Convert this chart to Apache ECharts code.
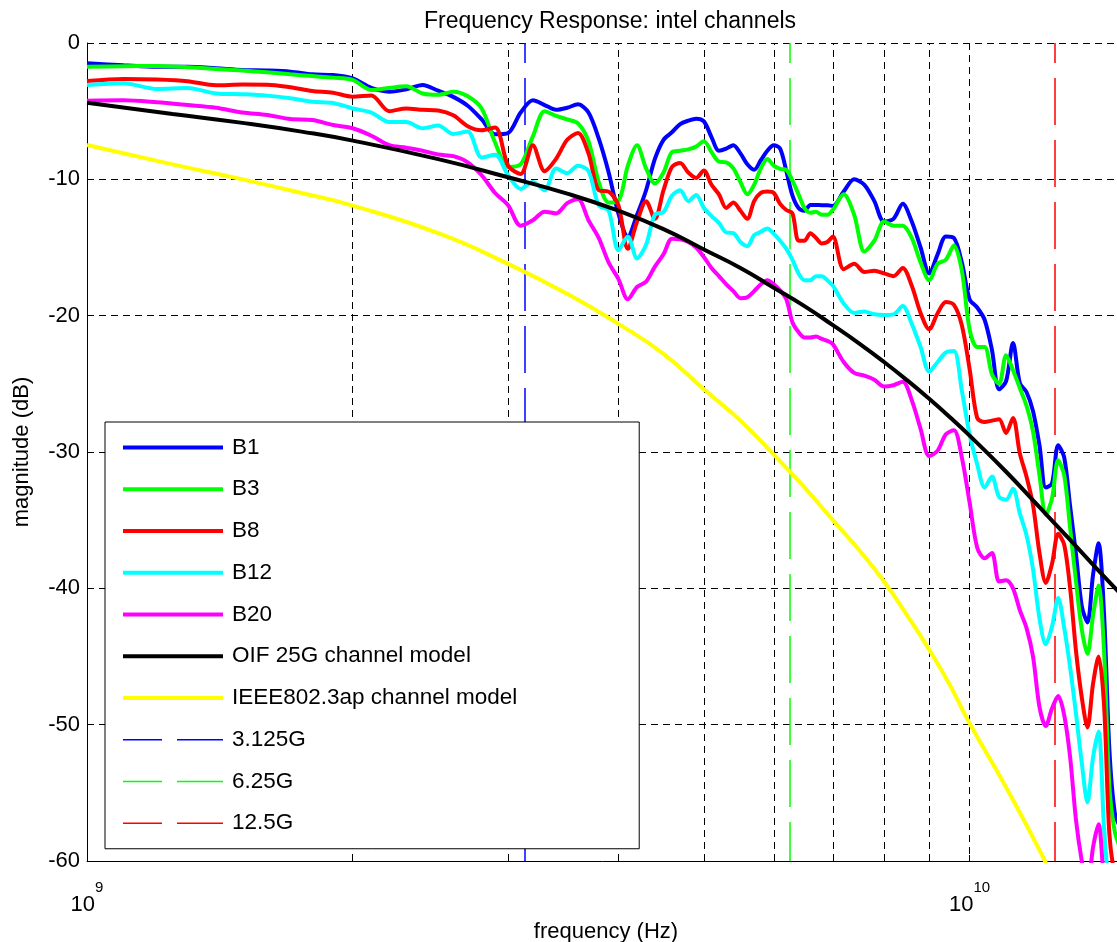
<!DOCTYPE html>
<html>
<head>
<meta charset="utf-8">
<title>Frequency Response: intel channels</title>
<script src="https://cdn.jsdelivr.net/npm/echarts@6.0.0/dist/echarts.min.js"></script>
<style>
    html, body { margin: 0; padding: 0; background: #ffffff; }
    #freq-chart { width: 1117px; height: 942px; }
</style>
</head>
<body>
<div id="freq-chart"></div>
<script>
// frequency samples of the measured channels, in GHz
var freqGHz = [
    1.0, 1.1, 1.2, 1.3, 1.4, 1.5, 1.6, 1.7, 1.8, 1.9,
    2.0, 2.1, 2.2, 2.3, 2.4, 2.5, 2.6, 2.7, 2.8, 2.9,
    3.0, 3.1, 3.2, 3.3, 3.4, 3.5, 3.6, 3.7, 3.8, 3.9,
    4.0, 4.1, 4.2, 4.3, 4.4, 4.5, 4.6, 4.7, 4.8, 4.9,
    5.0, 5.1, 5.2, 5.3, 5.4, 5.5, 5.6, 5.7, 5.8, 5.9,
    6.0, 6.1, 6.2, 6.3, 6.4, 6.5, 6.6, 6.7, 6.8, 6.9,
    7.0, 7.2, 7.4, 7.6, 7.8, 8.0, 8.2, 8.4, 8.6, 8.8,
    9.0, 9.2, 9.4, 9.6, 9.8, 10.0, 10.2, 10.4, 10.6, 10.8,
    11.0, 11.2, 11.4, 11.6, 11.8, 12.0, 12.2, 12.4, 12.6, 12.8,
    13.0, 13.2, 13.4, 13.6, 13.8, 14.0, 14.2, 14.4, 14.6, 14.8
];

// magnitude (dB) of each channel at freqGHz
var b1 = [
    -1.49, -1.63, -1.74, -1.74, -1.85, -1.98, -2.02, -2.1, -2.3, -2.35,
    -2.6, -3.3, -3.57, -3.4, -3.08, -3.5, -3.95, -4.6, -5.6, -6.7,
    -6.6, -5.1, -4.2, -4.55, -4.9, -4.75, -4.5, -5.1, -7.0, -9.5,
    -12.5, -14.2, -12.6, -10.8, -8.5, -7.1, -6.55, -5.95, -5.7, -5.55,
    -5.75, -6.9, -7.9, -7.75, -7.5, -8.1, -8.9, -9.3, -8.6, -7.9,
    -7.5, -7.75, -9.4, -11.2, -12.1, -12.3, -11.88, -11.88, -11.9, -11.9,
    -11.95, -10.9, -10.0, -10.4, -11.6, -13.1, -12.9, -11.8, -13.1, -15.0,
    -16.9, -15.5, -14.2, -14.3, -16.1, -18.8, -19.4, -20.3, -22.5, -25.4,
    -24.8, -22.0, -24.95, -25.6, -27.0, -29.5, -32.6, -32.3, -29.5, -30.4,
    -34.0, -37.5, -41.3, -42.5, -39.0, -36.7, -41.8, -51.8, -56.4, -57.5
];
var b3 = [
    -1.74, -1.7, -1.68, -1.78, -1.9, -2.02, -2.15, -2.3, -2.42, -2.54,
    -2.7, -3.45, -3.3, -3.18, -3.7, -3.8, -3.57, -3.9, -4.8, -7.3,
    -9.1, -8.9, -6.85, -5.0, -5.35, -5.6, -5.9, -7.2, -10.2, -11.7,
    -11.6, -9.0, -7.5, -9.2, -10.3, -9.5, -8.0, -7.9, -7.8, -7.6,
    -7.2, -8.0, -8.7, -8.75, -9.2, -10.2, -11.1, -10.4, -9.2, -8.5,
    -9.0, -9.23, -9.3, -10.1, -11.1, -12.1, -12.45, -12.37, -12.6, -12.6,
    -12.24, -11.1, -12.6, -15.3, -14.5, -13.1, -13.4, -13.4, -14.3, -16.1,
    -17.4, -16.2, -15.9, -14.85, -16.7, -21.0, -22.3, -22.3, -24.3, -25.0,
    -22.9, -24.0, -25.3, -26.6, -28.5, -31.7, -34.6, -33.4, -30.6, -31.7,
    -35.6, -39.5, -43.0, -44.8, -42.0, -39.8, -44.5, -54.5, -57.8, -59.0
];
var b8 = [
    -2.79, -2.64, -2.68, -2.8, -3.1, -3.05, -3.06, -3.25, -3.52, -3.65,
    -3.94, -3.85, -5.0, -4.8, -4.9, -4.95, -5.3, -6.1, -6.4, -6.2,
    -9.0, -9.6, -7.5, -9.4, -8.5, -7.1, -6.6, -8.1, -10.8, -10.9,
    -11.9, -15.1, -13.1, -11.6, -12.9, -10.8, -9.1, -8.8, -9.5, -9.9,
    -9.35, -10.4, -11.1, -12.1, -11.7, -12.3, -12.9, -11.6, -11.0, -10.9,
    -11.0, -11.8, -12.25, -12.5, -14.5, -14.5, -13.95, -14.3, -14.7, -14.6,
    -14.2, -16.6, -16.2, -16.8, -16.7, -16.9, -17.1, -16.5, -17.8, -19.8,
    -21.0, -19.82, -19.0, -19.2, -20.7, -23.9, -27.5, -27.8, -27.7, -27.6,
    -28.6, -27.5, -30.1, -31.8, -33.9, -37.4, -39.6, -38.2, -36.0, -36.8,
    -40.0, -44.6, -48.0, -50.2, -47.0, -45.0, -48.5, -58.0, -61.0, -62.0
];
var b12 = [
    -3.08, -2.95, -3.37, -3.3, -3.7, -3.76, -3.86, -4.06, -4.31, -4.4,
    -4.8, -5.1, -5.8, -5.8, -6.25, -6.05, -6.67, -6.5, -8.4, -8.2,
    -9.7, -10.7, -10.2, -10.8, -9.2, -9.55, -9.0, -9.4, -11.9, -12.3,
    -15.2, -14.2, -15.8, -14.8, -12.6, -12.4, -11.2, -10.8, -11.6, -11.15,
    -12.1, -12.7, -13.2, -13.9, -13.95, -14.6, -14.9, -14.1, -13.85, -13.6,
    -14.0, -14.5, -15.1, -15.9, -16.9, -17.4, -17.4, -17.1, -17.1, -17.4,
    -17.8, -19.1, -19.8, -19.7, -19.9, -19.95, -19.9, -19.3, -20.6, -22.3,
    -24.1, -23.4, -22.7, -22.6, -25.5, -28.7, -30.9, -32.6, -31.8, -33.3,
    -33.5, -32.7, -34.5, -36.1, -38.6, -42.2, -44.1, -42.8, -40.7, -42.9,
    -45.8, -49.2, -52.8, -55.7, -52.4, -50.5, -57.5, -62.0, -63.0, -64.0
];
var b20 = [
    -4.23, -4.2, -4.35, -4.55, -4.75, -5.1, -5.28, -5.58, -5.65, -6.01,
    -6.25, -6.8, -7.5, -7.68, -7.9, -8.18, -8.3, -8.75, -9.7, -11.0,
    -11.9, -13.4, -13.0, -12.37, -12.5, -11.75, -11.45, -13.0, -14.3, -16.1,
    -17.3, -18.8, -17.9, -17.5, -16.4, -15.5, -14.35, -14.4, -14.6, -15.0,
    -15.7, -16.5, -17.1, -17.7, -18.2, -18.72, -18.65, -18.2, -17.7, -17.4,
    -17.7, -18.15, -18.8, -20.5, -21.2, -21.6, -21.6, -21.53, -21.7, -21.85,
    -22.1, -23.4, -24.2, -24.4, -24.7, -25.2, -25.1, -24.85, -26.2, -28.3,
    -30.3, -29.9, -28.7, -28.4, -30.4, -33.7, -37.0, -37.8, -37.4, -39.5,
    -39.4, -40.0, -41.6, -42.9, -45.0, -48.7, -50.1, -48.8, -47.9, -49.3,
    -52.4, -57.0, -60.0, -62.0, -59.0, -57.3, -61.5, -64.0, -65.0, -66.0
];

// channel models, sampled more coarsely
var modelFreqGHz = [1.0, 1.25, 1.5, 1.75, 2.0, 2.5, 3.0, 3.5, 4.0, 4.5, 5.0, 5.5, 6.0,
                    6.5, 7.0, 7.5, 8.0, 8.5, 9.0, 9.5, 10.0, 11.0, 12.0, 13.0, 14.0, 15.0];
var oif25g = [-4.38, -5.2, -5.86, -6.5, -7.16, -8.52, -9.85, -11.05, -12.3, -13.65, -15.15, -16.5, -17.95,
              -19.3, -20.7, -22.05, -23.4, -24.75, -26.1, -27.45, -28.8, -31.45, -34.05, -36.45, -38.7, -40.75];
var ieee8023ap = [-7.48, -8.9, -10.0, -11.0, -11.93, -13.95, -16.2, -18.4, -20.6, -22.8, -25.4, -27.7, -30.2,
                  -32.6, -35.0, -37.2, -39.5, -42.0, -44.5, -47.1, -49.9, -54.6, -59.2, -63.8];

// baud-rate markers
var markerFreqGHz = [3.125, 6.25, 12.5];
var markerNames = ["3.125G", "6.25G", "12.5G"];
var markerColors = ["#0000ff", "#00ff00", "#ff0000"];

// minor (log) grid positions inside the first decade
var minorGridGHz = [2, 3, 4, 5, 6, 7, 8, 9];

var channelNames = ["B1", "B3", "B8", "B12", "B20"];
var channelColors = ["#0000ff", "#00ff00", "#ff0000", "#00ffff", "#ff00ff"];
var channelData = [b1, b3, b8, b12, b20];

var FONT = "'Liberation Sans', Arial, Helvetica, sans-serif";
var Y_MIN = -60;

function toPairs(xs, ys) {
    var out = [];
    for (var i = 0; i < ys.length; i++) {
        out.push([xs[i], ys[i]]);
    }
    return out;
}

function markerStyle(color) {
    return {width: 1.5, color: color, opacity: 1, type: [47, 15], dashOffset: 8};
}

function showFreqChart() {
    var chart = echarts.init(document.getElementById("freq-chart"), null, {renderer: "canvas"});
    var gridDash = [7, 5];

    var series = [];
    var legendData = [];
    for (var i = 0; i < channelNames.length; i++) {
        series.push({
            name: channelNames[i],
            type: "line",
            data: toPairs(freqGHz, channelData[i]),
            symbol: "none",
            smooth: 0.3,
            clip: true,
            lineStyle: {width: 4, color: channelColors[i]},
            itemStyle: {color: channelColors[i]}
        });
        legendData.push({name: channelNames[i], lineStyle: {width: 4}});
    }
    series.push({
        name: "OIF 25G channel model",
        type: "line",
        data: toPairs(modelFreqGHz, oif25g),
        symbol: "none",
        smooth: true,
        clip: true,
        lineStyle: {width: 4, color: "#000000"},
        itemStyle: {color: "#000000"}
    });
    legendData.push({name: "OIF 25G channel model", lineStyle: {width: 4}});
    series.push({
        name: "IEEE802.3ap channel model",
        type: "line",
        data: toPairs(modelFreqGHz, ieee8023ap),
        symbol: "none",
        smooth: true,
        clip: true,
        lineStyle: {width: 4, color: "#ffff00"},
        itemStyle: {color: "#ffff00"}
    });
    legendData.push({name: "IEEE802.3ap channel model", lineStyle: {width: 4}});

    // legend-only entries for the markers, the lines themselves are one markLine below
    var markerLines = [];
    for (var m = 0; m < markerNames.length; m++) {
        series.push({
            name: markerNames[m],
            type: "line",
            data: [],
            symbol: "none",
            color: markerColors[m],
            lineStyle: {width: 1.5, color: markerColors[m], type: [47, 15]},
            itemStyle: {color: markerColors[m]}
        });
        legendData.push({name: markerNames[m], lineStyle: {width: 1.5, type: [47, 15]}});
        markerLines.push({
            xAxis: markerFreqGHz[m],
            lineStyle: markerStyle(markerColors[m]),
            itemStyle: {color: markerColors[m]}
        });
    }
    series.push({
        name: "marker-lines",
        type: "line",
        data: [],
        markLine: {
            silent: true,
            symbol: "none",
            z: 1,
            animation: false,
            label: {show: false},
            data: markerLines
        }
    });

    // minor grid lines and their small inside ticks
    var minorLines = [];
    var minorTicks = [];
    for (var k = 0; k < minorGridGHz.length; k++) {
        minorLines.push({xAxis: minorGridGHz[k]});
        minorTicks.push([{coord: [minorGridGHz[k], Y_MIN]}, {coord: [minorGridGHz[k], Y_MIN + 0.45]}]);
    }
    series.push({
        name: "minor-grid",
        type: "line",
        data: [],
        markLine: {
            silent: true,
            symbol: "none",
            z: 0,
            animation: false,
            label: {show: false},
            lineStyle: {width: 1, color: "#000000", type: gridDash},
            data: minorLines
        }
    });
    series.push({
        name: "minor-ticks",
        type: "line",
        data: [],
        markLine: {
            silent: true,
            symbol: "none",
            z: 1,
            animation: false,
            label: {show: false},
            lineStyle: {width: 1, color: "#000000", type: "solid"},
            data: minorTicks
        }
    });

    var option = {
        animation: false,
        backgroundColor: "#ffffff",
        textStyle: {fontFamily: FONT},
        title: {
            text: "Frequency Response: intel channels",
            left: 605,
            top: 5,
            textAlign: "center",
            textStyle: {fontFamily: FONT, fontSize: 23, fontWeight: "normal", color: "#000000"}
        },
        legend: {
            orient: "vertical",
            left: 105,
            top: 422,
            itemWidth: 100,
            itemHeight: 20,
            itemGap: 18.75,
            padding: [14, 122, 14, 16],
            backgroundColor: "#ffffff",
            borderColor: "#000000",
            borderWidth: 1,
            borderRadius: 0,
            selectedMode: false,
            itemStyle: {opacity: 0},
            textStyle: {fontFamily: FONT, fontSize: 22.5, color: "#000000", padding: [0, 0, 0, 4]},
            data: legendData
        },
        grid: {
            left: 87,
            top: 43,
            width: 1038,
            height: 818,
            outerBoundsMode: "none"
        },
        xAxis: {
            type: "log",
            logBase: 10,
            min: 1,
            max: 15,
            name: "frequency (Hz)",
            nameLocation: "middle",
            nameGap: 43,
            nameTextStyle: {fontFamily: FONT, fontSize: 22, color: "#000000"},
            axisLine: {show: true, onZero: false, lineStyle: {color: "#000000", width: 1}},
            axisTick: {show: true, inside: true, length: 6, lineStyle: {color: "#000000"}},
            splitLine: {show: true, lineStyle: {color: "#000000", width: 1, type: gridDash}},
            minorTick: {show: false},
            axisLabel: {
                margin: 19,
                color: "#000000",
                formatter: function (value) {
                    var e = Math.log10(value);
                    if (Math.abs(e - Math.round(e)) > 1e-6) {
                        return "";
                    }
                    return "{b|10}{s|" + (9 + Math.round(e)) + "}";
                },
                rich: {
                    b: {fontFamily: FONT, fontSize: 22, color: "#000000", padding: [14, 0, 0, 0]},
                    s: {fontFamily: FONT, fontSize: 15, color: "#000000", verticalAlign: "top"}
                }
            }
        },
        yAxis: {
            type: "value",
            min: Y_MIN,
            max: 0,
            interval: 10,
            name: "magnitude (dB)",
            nameLocation: "middle",
            nameGap: 54,
            nameTextStyle: {fontFamily: FONT, fontSize: 22, color: "#000000"},
            axisLine: {show: true, onZero: false, lineStyle: {color: "#000000", width: 1}},
            axisTick: {show: true, inside: true, length: 6, lineStyle: {color: "#000000"}},
            splitLine: {show: true, lineStyle: {color: "#000000", width: 1, type: gridDash}},
            axisLabel: {margin: 7, fontFamily: FONT, fontSize: 22, color: "#000000"}
        },
        series: series
    };

    chart.setOption(option);
}

showFreqChart();
</script>
</body>
</html>
